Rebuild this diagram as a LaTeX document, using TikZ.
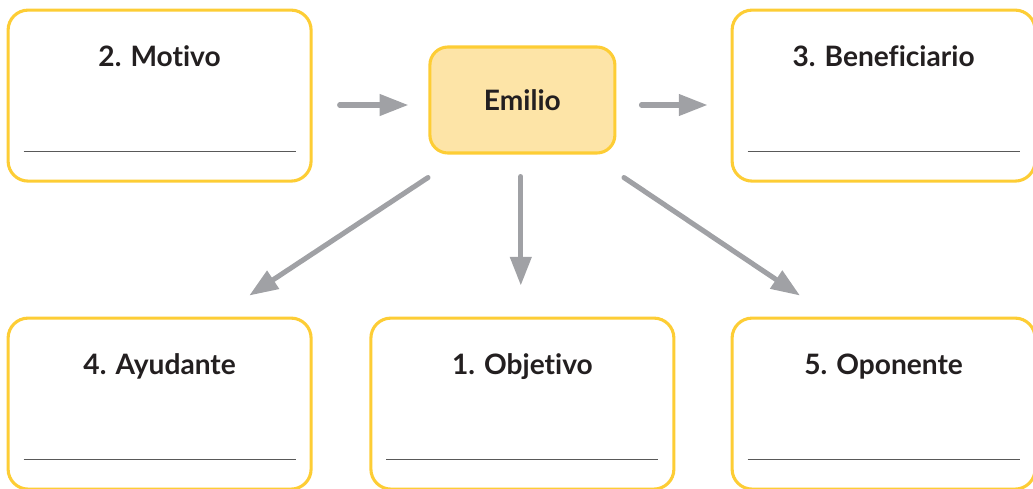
\documentclass[tikz,border=0pt]{standalone}
\usepackage{fontspec}
\setmainfont[RawFeature=-liga]{Lato}
\usepackage{tikz}
\usetikzlibrary{shapes, arrows.meta}

\definecolor{boxyellow}{HTML}{FDCD35}
\definecolor{boxfill}{HTML}{FDE4A7}
\definecolor{arrowgray}{HTML}{A0A1A5}
\definecolor{textblack}{HTML}{231F20}

\begin{document}
\begin{tikzpicture}[thick]

\tikzstyle{card}=[rectangle, rounded corners=0.5cm, line width=2.2pt, draw=boxyellow, fill=white, minimum width=7.575cm, minimum height=4.275cm]
\tikzstyle{hero}=[rectangle, rounded corners=0.45cm, line width=2.2pt, draw=boxyellow, fill=boxfill, minimum width=4.625cm, minimum height=2.65cm, text=textblack, font=\bfseries\fontsize{20}{24}\selectfont]
\tikzstyle{title}=[anchor=base, text=textblack, font=\bfseries\fontsize{20}{24}\selectfont]
\tikzstyle{rule}=[line width=1pt, draw=black!65]
\tikzstyle{link}=[line width=3.6pt, line cap=round, arrowgray, -{Triangle[length=0.72cm, width=0.52cm]}]

	\useasboundingbox (0,0) rectangle (25.825,-12.2);

	\node[card] (motivo)   at (3.99,-2.39)  {};
	\node[hero] (emilio)   at (13.06,-2.5)  {Emilio};
	\node[card] (benef)    at (22.09,-2.39) {};
	\node[card] (ayudante) at (3.99,-10.09) {};
	\node[card] (objetivo) at (13.06,-10.09) {};
	\node[card] (oponente) at (22.09,-10.09) {};

	\node[title] (t2) at ([yshift=-1.45cm]motivo.north)   {2. Motivo};
	\node[title] (t3) at ([yshift=-1.45cm]benef.north)    {3. Beneficiario};
	\node[title] (t4) at ([yshift=-1.45cm]ayudante.north) {4. Ayudante};
	\node[title] (t1) at ([yshift=-1.45cm]objetivo.north) {1. Objetivo};
	\node[title] (t5) at ([yshift=-1.45cm]oponente.north) {5. Oponente};

	% answer lines
	\draw[rule] ([xshift=0.425cm,yshift=0.775cm]motivo.south west) -- ([xshift=-0.425cm,yshift=0.775cm]motivo.south east);
	\draw[rule] ([xshift=0.425cm,yshift=0.775cm]benef.south west) -- ([xshift=-0.425cm,yshift=0.775cm]benef.south east);
	\draw[rule] ([xshift=0.425cm,yshift=0.775cm]ayudante.south west) -- ([xshift=-0.425cm,yshift=0.775cm]ayudante.south east);
	\draw[rule] ([xshift=0.425cm,yshift=0.775cm]objetivo.south west) -- ([xshift=-0.425cm,yshift=0.775cm]objetivo.south east);
	\draw[rule] ([xshift=0.425cm,yshift=0.775cm]oponente.south west) -- ([xshift=-0.425cm,yshift=0.775cm]oponente.south east);

	% links
	\draw[link] ([xshift=0.675cm,yshift=-0.125cm]motivo.east |- emilio.west) -- ([xshift=-0.5cm,yshift=-0.125cm]emilio.west);
	\draw[link] ([xshift=0.625cm,yshift=-0.125cm]emilio.east) -- ([xshift=-0.575cm,yshift=-0.125cm]benef.west |- emilio.east);
	\draw[link] ([xshift=-2.36cm,yshift=-0.575cm]emilio.south) -- ([xshift=2.24cm,yshift=0.525cm]ayudante.north);
	\draw[link] ([xshift=-0.04cm,yshift=-0.55cm]emilio.south) -- ([xshift=-0.04cm,yshift=0.775cm]objetivo.north);
	\draw[link] ([xshift=2.54cm,yshift=-0.575cm]emilio.south) -- ([xshift=-2.09cm,yshift=0.525cm]oponente.north);
\end{tikzpicture}
\end{document}
